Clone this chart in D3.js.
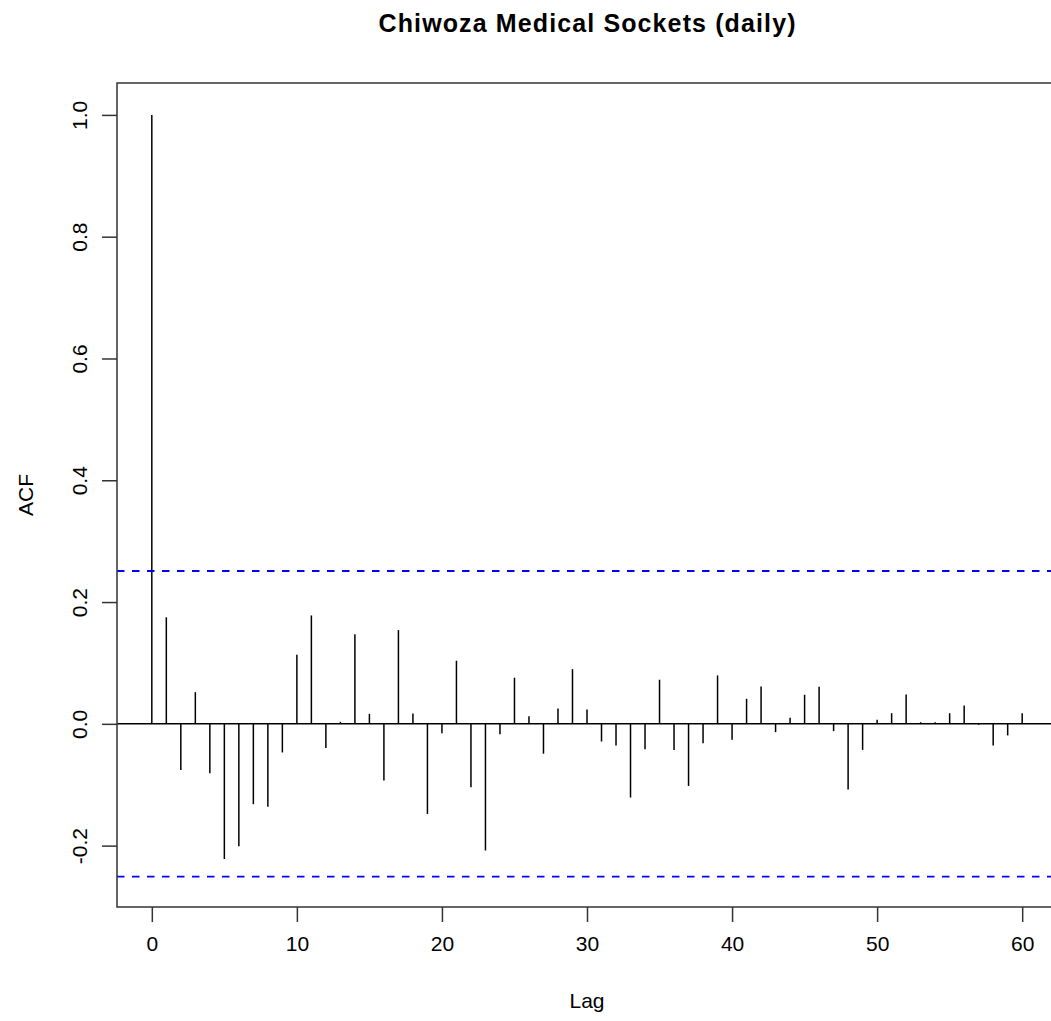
<!DOCTYPE html>
<html>
<head>
<meta charset="utf-8">
<script src="https://cdn.jsdelivr.net/npm/d3@7"></script>
<style>
  html, body { margin: 0; padding: 0; background: #fff; overflow: hidden; }
  svg { display: block; }
</style>
</head>
<body>
<script>
const title = "Chiwoza Medical Sockets (daily)";
const xLabel = "Lag";
const yLabel = "ACF";
const lags = d3.range(0, 61);
const acf = [
  1.0, 0.175, -0.076, 0.052, -0.081, -0.222, -0.201, -0.132, -0.136, -0.047,
  0.1135, 0.178, -0.0395, 0.0033, 0.147, 0.0164, -0.093, 0.154, 0.017, -0.148,
  -0.0154, 0.1036, -0.104, -0.208, -0.017, 0.0757, 0.0126, -0.049, 0.025, 0.0899,
  0.0236, -0.029, -0.0356, -0.121, -0.0417, 0.0724, -0.0428, -0.102, -0.0318, 0.0795,
  -0.0263, 0.0411, 0.0614, -0.0137, 0.0099, 0.0477, 0.0609, -0.012, -0.108, -0.0428,
  0.0066, 0.0175, 0.0482, 0.0027, 0.0027, 0.0175, 0.030, -0.0016, -0.0356, -0.019,
  0.0175
];
const ci = 0.251;
const xTicks = [0, 10, 20, 30, 40, 50, 60];
const yTicks = [-0.2, 0.0, 0.2, 0.4, 0.6, 0.8, 1.0];

const W = 1051, H = 1021;
const mLeft = 117, mRight = 1057, mTop = 83, mBottom = 907;

const svg = d3.select("body").append("svg").attr("width", W).attr("height", H);

const x = d3.scaleLinear().domain([-2.4, 62.4]).range([mLeft, mRight]);
const y = d3.scaleLinear().domain([-0.3008, 1.0524]).range([mBottom, mTop]);

const font = "'Liberation Sans', Arial, Helvetica, sans-serif";
const fmtY = d => d3.format(".1f")(d).replace("\u2212", "-");

// zero line
svg.append("line")
  .attr("x1", mLeft).attr("x2", mRight)
  .attr("y1", y(0)).attr("y2", y(0))
  .attr("stroke", "#000").attr("stroke-width", 1.5);

// spikes
svg.append("g").selectAll("line").data(lags).join("line")
  .attr("x1", d => x(d)).attr("x2", d => x(d))
  .attr("y1", y(0)).attr("y2", d => y(acf[d]))
  .attr("stroke", "#000").attr("stroke-width", 1.5);

// CI lines
[ci, -ci].forEach(v => {
  svg.append("line")
    .attr("x1", mLeft).attr("x2", mRight)
    .attr("y1", y(v)).attr("y2", y(v))
    .attr("stroke", "#0000ff").attr("stroke-width", 1.8)
    .attr("stroke-dasharray", "7.5,7.5");
});

// box
svg.append("rect")
  .attr("x", mLeft).attr("y", mTop)
  .attr("width", mRight - mLeft).attr("height", mBottom - mTop)
  .attr("fill", "none").attr("stroke", "#333").attr("stroke-width", 1.5);

// x axis
const xAxis = svg.append("g")
  .attr("transform", `translate(0,${mBottom})`)
  .call(d3.axisBottom(x).tickValues(xTicks).tickSize(15).tickPadding(14).tickFormat(d3.format("d")));
xAxis.select(".domain").remove();
xAxis.selectAll("line").attr("stroke", "#333").attr("stroke-width", 1.5);
xAxis.selectAll("text").attr("font-family", font).attr("font-size", 21).attr("fill", "#000");

// y axis
const yAxis = svg.append("g")
  .attr("transform", `translate(${mLeft},0)`)
  .call(d3.axisLeft(y).tickValues(yTicks).tickSize(15).tickFormat(fmtY));
yAxis.select(".domain").remove();
yAxis.selectAll("line").attr("stroke", "#333").attr("stroke-width", 1.5);
yAxis.selectAll(".tick text")
  .attr("font-family", font).attr("font-size", 21).attr("fill", "#000")
  .attr("text-anchor", "middle")
  .attr("x", 0).attr("y", 0).attr("dy", null)
  .attr("transform", "translate(-30,0) rotate(-90)");

// title
svg.append("text")
  .attr("x", (mLeft + mRight) / 2).attr("y", 32)
  .attr("text-anchor", "middle")
  .attr("font-family", font).attr("font-weight", "bold").attr("font-size", 25)
  .attr("textLength", 417).attr("lengthAdjust", "spacing")
  .text(title);

// x label
svg.append("text")
  .attr("x", (mLeft + mRight) / 2).attr("y", 1008)
  .attr("text-anchor", "middle")
  .attr("font-family", font).attr("font-size", 21)
  .text(xLabel);

// y label
svg.append("text")
  .attr("transform", `translate(33,${(mTop + mBottom) / 2}) rotate(-90)`)
  .attr("text-anchor", "middle")
  .attr("font-family", font).attr("font-size", 21)
  .text(yLabel);
</script>
</body>
</html>
